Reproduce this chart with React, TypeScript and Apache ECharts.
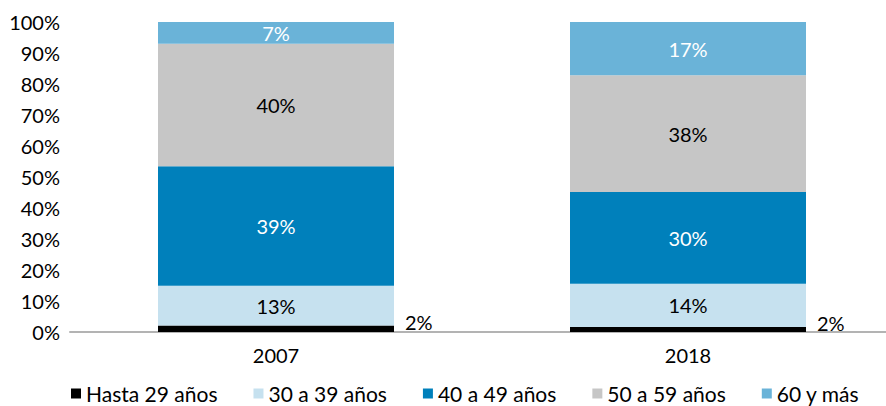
import React, { useEffect, useRef } from "react";
import * as echarts from "echarts";

const categories = ["2007", "2018"];
const seriesNames = ["Hasta 29 años", "30 a 39 años", "40 a 49 años", "50 a 59 años", "60 y más"];
const hasta29 = [2.1, 1.6];
const de30a39 = [12.8, 14.0];
const de40a49 = [38.6, 29.6];
const de50a59 = [39.5, 37.6];
const de60ymas = [7.0, 17.2];
const yTicks = [0, 10, 20, 30, 40, 50, 60, 70, 80, 90, 100];

const colors = ["#000000", "#c6e1ef", "#0080bb", "#c6c6c6", "#6ab3d8"];
const labelColors = ["#000000", "#000000", "#ffffff", "#000000", "#ffffff"];
const FONT = "Lato, 'Open Sans', sans-serif";

export default function App() {
  const ref = useRef<HTMLDivElement>(null);
  useEffect(() => {
    document.body.style.margin = "0";
    document.body.style.overflow = "hidden";
    const chart = echarts.init(ref.current!, null, { renderer: "svg" });
    const values = [hasta29, de30a39, de40a49, de50a59, de60ymas];
    chart.setOption({
      animation: false,
      textStyle: { fontFamily: FONT },
      grid: { left: 70, top: 22, right: 0, height: 310, containLabel: false },
      legend: {
        data: seriesNames,
        left: 71,
        top: 383,
        padding: 0,
        icon: "rect",
        itemWidth: 10,
        itemHeight: 10,
        itemGap: 36,
        textStyle: { fontFamily: FONT, fontSize: 21, color: "#000" },
      },
      xAxis: {
        type: "category",
        data: categories,
        axisLine: { lineStyle: { color: "#b3b3b3", width: 2 } },
        axisTick: { show: false },
        axisLabel: { fontFamily: FONT, fontSize: 20, color: "#000", margin: 13 },
      },
      yAxis: {
        type: "value",
        min: yTicks[0],
        max: yTicks[yTicks.length - 1],
        interval: 10,
        splitLine: { show: false },
        axisLine: { show: false },
        axisTick: { show: false },
        axisLabel: {
          fontFamily: FONT,
          fontSize: 20,
          color: "#000",
          margin: 10,
          formatter: (v: number) => `${v}%`,
        },
      },
      series: seriesNames.map((name, i) => ({
        name,
        type: "bar",
        stack: "total",
        barWidth: 236,
        data: values[i],
        itemStyle: { color: colors[i] },
        label: {
          show: true,
          position: i === 0 ? "right" : "inside",
          distance: 11,
          offset: i === 0 ? [0, -7] : [0, 0],
          fontFamily: FONT,
          fontSize: 20,
          color: labelColors[i],
          formatter: (p: any) => `${Math.round(p.value)}%`,
        },
      })),
    });
    return () => chart.dispose();
  }, []);
  return <div ref={ref} style={{ width: 894, height: 406 }} />;
}
